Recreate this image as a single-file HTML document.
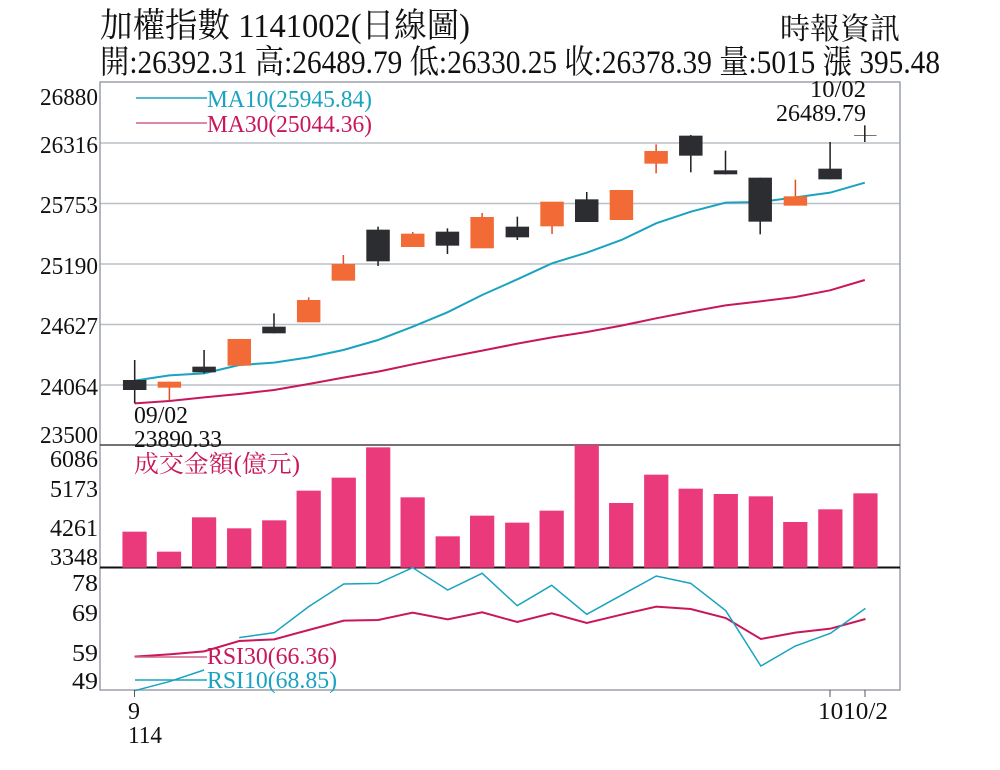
<!DOCTYPE html>
<html><head><meta charset="utf-8"><style>
html,body{margin:0;padding:0;background:#fff;}
svg{display:block;}
text{font-family:"Liberation Serif","Noto Serif CJK SC","Noto Sans CJK TC",serif;}
</style></head><body>
<svg width="1000" height="770" viewBox="0 0 1000 770" xmlns="http://www.w3.org/2000/svg">
<rect width="1000" height="770" fill="#fff"/>
<!-- header -->
<text x="100" y="37" font-size="34" fill="#111" textLength="370" lengthAdjust="spacingAndGlyphs">加權指數 1141002(日線圖)</text>
<text x="780" y="39" font-size="30" fill="#111" textLength="120" lengthAdjust="spacingAndGlyphs">時報資訊</text>
<text x="100" y="73" font-size="33" fill="#111" textLength="840" lengthAdjust="spacingAndGlyphs">開:26392.31 高:26489.79 低:26330.25 收:26378.39 量:5015 漲 395.48</text>

<!-- grid -->
<g stroke="#b9c0c6" stroke-width="1.5">
<line x1="100" y1="143" x2="900" y2="143"/>
<line x1="100" y1="203.5" x2="900" y2="203.5"/>
<line x1="100" y1="264" x2="900" y2="264"/>
<line x1="100" y1="324.5" x2="900" y2="324.5"/>
<line x1="100" y1="385" x2="900" y2="385"/>
</g>
<!-- frame -->
<rect x="100" y="82" width="800" height="608" fill="none" stroke="#9aa1a8" stroke-width="1.5"/>
<line x1="100" y1="445" x2="900" y2="445" stroke="#444" stroke-width="1.5"/>
<line x1="100" y1="567.5" x2="900" y2="567.5" stroke="#111" stroke-width="2"/>

<!-- price labels -->
<g font-size="24" fill="#111" text-anchor="end">
<text x="98" y="105" textLength="58" lengthAdjust="spacingAndGlyphs">26880</text>
<text x="98" y="153" textLength="58" lengthAdjust="spacingAndGlyphs">26316</text>
<text x="98" y="213" textLength="58" lengthAdjust="spacingAndGlyphs">25753</text>
<text x="98" y="274" textLength="58" lengthAdjust="spacingAndGlyphs">25190</text>
<text x="98" y="334" textLength="58" lengthAdjust="spacingAndGlyphs">24627</text>
<text x="98" y="395" textLength="58" lengthAdjust="spacingAndGlyphs">24064</text>
<text x="98" y="443" textLength="58" lengthAdjust="spacingAndGlyphs">23500</text>
<text x="98" y="467" textLength="48" lengthAdjust="spacingAndGlyphs">6086</text>
<text x="98" y="497" textLength="48" lengthAdjust="spacingAndGlyphs">5173</text>
<text x="98" y="536" textLength="48" lengthAdjust="spacingAndGlyphs">4261</text>
<text x="98" y="565" textLength="48" lengthAdjust="spacingAndGlyphs">3348</text>
<text x="98" y="591" textLength="26" lengthAdjust="spacingAndGlyphs">78</text>
<text x="98" y="621" textLength="26" lengthAdjust="spacingAndGlyphs">69</text>
<text x="98" y="661" textLength="26" lengthAdjust="spacingAndGlyphs">59</text>
<text x="98" y="689" textLength="26" lengthAdjust="spacingAndGlyphs">49</text>
</g>

<!-- candles in zoom coords -->
<g transform="translate(100,120) scale(0.5102,0.33333)">
<polyline fill="none" stroke="#c8175a" stroke-width="2" vector-effect="non-scaling-stroke" points="68,850 136,843 204,832 273,822 341,810 409,792 477,773 545,755 613,733 681,712 749,692 818,671 886,652 954,636 1022,617 1090,595 1158,575 1226,556 1294,544 1363,531 1431,511 1499,480"/>
<polyline fill="none" stroke="#1aa3c0" stroke-width="2" vector-effect="non-scaling-stroke" points="68,782 136,766 204,760 273,735 341,728 409,712 477,690 545,660 613,620 681,577 749,525 818,478 886,430 954,398 1022,360 1090,310 1158,275 1226,248 1294,246 1363,232 1431,218 1499,188"/>
<g stroke="#222" stroke-width="3">
<line x1="68" y1="720" x2="68" y2="850"/>
<line x1="204" y1="690" x2="204" y2="760"/>
<line x1="341" y1="580" x2="341" y2="640"/>
<line x1="545" y1="320" x2="545" y2="438"/>
<line x1="681" y1="325" x2="681" y2="402"/>
<line x1="818" y1="290" x2="818" y2="360"/>
<line x1="954" y1="216" x2="954" y2="306"/>
<line x1="1158" y1="45" x2="1158" y2="157"/>
<line x1="1226" y1="92" x2="1226" y2="163"/>
<line x1="1294" y1="173" x2="1294" y2="343"/>
<line x1="1431" y1="66" x2="1431" y2="178"/>
<line x1="1499" y1="16" x2="1499" y2="66"/>
<line x1="1478" y1="47" x2="1522" y2="47" stroke-width="2"/>
</g>
<g stroke="#e2502a" stroke-width="3">
<line x1="136" y1="785" x2="136" y2="840"/>
<line x1="409" y1="532" x2="409" y2="560"/>
<line x1="477" y1="405" x2="477" y2="450"/>
<line x1="613" y1="336" x2="613" y2="360"/>
<line x1="749" y1="279" x2="749" y2="320"/>
<line x1="886" y1="300" x2="886" y2="342"/>
<line x1="1090" y1="73" x2="1090" y2="160"/>
<line x1="1363" y1="179" x2="1363" y2="240"/>
</g>
<g fill="#2b2d30">
<rect x="45" y="780" width="46" height="30"/>
<rect x="181" y="740" width="46" height="17"/>
<rect x="318" y="620" width="46" height="20"/>
<rect x="522" y="329" width="46" height="95"/>
<rect x="658" y="335" width="46" height="42"/>
<rect x="795" y="320" width="46" height="32"/>
<rect x="931" y="238" width="46" height="68"/>
<rect x="1135" y="47" width="46" height="60"/>
<rect x="1203" y="151" width="46" height="12"/>
<rect x="1271" y="173" width="46" height="132"/>
<rect x="1408" y="146" width="46" height="32"/>
</g>
<g fill="#f26a36">
<rect x="113" y="785" width="46" height="18"/>
<rect x="250" y="657" width="46" height="80"/>
<rect x="386" y="540" width="46" height="67"/>
<rect x="454" y="432" width="46" height="50"/>
<rect x="590" y="341" width="46" height="40"/>
<rect x="726" y="291" width="46" height="94"/>
<rect x="863" y="245" width="46" height="74"/>
<rect x="999" y="210" width="46" height="90"/>
<rect x="1067" y="93" width="46" height="38"/>
<rect x="1340" y="229" width="46" height="28"/>
</g>
</g>

<!-- MA legend -->
<line x1="136" y1="98" x2="207" y2="98" stroke="#1aa3c0" stroke-width="1.5"/>
<line x1="136" y1="123" x2="207" y2="123" stroke="#d0608a" stroke-width="1.5"/>
<text x="207" y="107" font-size="24" fill="#1aa3c0" textLength="165" lengthAdjust="spacingAndGlyphs">MA10(25945.84)</text>
<text x="207" y="132" font-size="24" fill="#c8175a" textLength="165" lengthAdjust="spacingAndGlyphs">MA30(25044.36)</text>
<text x="810" y="97" font-size="24" fill="#111" textLength="56" lengthAdjust="spacingAndGlyphs">10/02</text>
<text x="776" y="121" font-size="24" fill="#111" textLength="90" lengthAdjust="spacingAndGlyphs">26489.79</text>
<text x="134" y="423" font-size="24" fill="#111" textLength="54" lengthAdjust="spacingAndGlyphs">09/02</text>
<text x="134" y="447" font-size="24" fill="#111" textLength="88" lengthAdjust="spacingAndGlyphs">23890.33</text>

<!-- volume -->
<g transform="translate(0,440) scale(0.63776,0.33333)" fill="#ea3a7b">
<rect x="192" y="275" width="38" height="108"/>
<rect x="246" y="335" width="38" height="48"/>
<rect x="301" y="232" width="38" height="151"/>
<rect x="356" y="265" width="38" height="118"/>
<rect x="411" y="241" width="38" height="142"/>
<rect x="465" y="152" width="38" height="231"/>
<rect x="520" y="113" width="38" height="270"/>
<rect x="574" y="22" width="38" height="361"/>
<rect x="628" y="172" width="38" height="211"/>
<rect x="683" y="289" width="38" height="94"/>
<rect x="737" y="227" width="38" height="156"/>
<rect x="792" y="248" width="38" height="135"/>
<rect x="846" y="212" width="38" height="171"/>
<rect x="901" y="15" width="38" height="368"/>
<rect x="955" y="189" width="38" height="194"/>
<rect x="1010" y="104" width="38" height="279"/>
<rect x="1064" y="146" width="38" height="237"/>
<rect x="1119" y="162" width="38" height="221"/>
<rect x="1174" y="169" width="38" height="214"/>
<rect x="1228" y="246" width="38" height="137"/>
<rect x="1283" y="208" width="38" height="175"/>
<rect x="1338" y="160" width="38" height="223"/>
</g>
<text x="134" y="472" font-size="24" fill="#c8175a" textLength="166" lengthAdjust="spacingAndGlyphs">成交金額(億元)</text>

<!-- RSI -->
<g transform="translate(0,440) scale(0.63776,0.33333)" fill="none">
<polyline stroke="#c8175a" stroke-width="2" vector-effect="non-scaling-stroke" points="211,650 265,643 320,634 375,603 430,598 484,570 539,542 593,540 647,518 702,538 756,517 811,546 865,520 920,549 974,524 1029,500 1083,507 1138,534 1193,597 1247,578 1302,566 1357,537"/>
<polyline stroke="#1aa3c0" stroke-width="1.5" vector-effect="non-scaling-stroke" points="211,752 265,725 320,690"/>
<polyline stroke="#1aa3c0" stroke-width="1.5" vector-effect="non-scaling-stroke" points="375,593 430,578 484,500 539,432 593,430 647,383 702,450 756,400 811,497 865,436 920,523 974,466 1029,408 1083,430 1138,512 1193,678 1247,618 1302,580 1357,505"/>
</g>
<line x1="135" y1="657" x2="207" y2="657" stroke="#d0608a" stroke-width="1.5"/>
<line x1="135" y1="680" x2="207" y2="680" stroke="#1aa3c0" stroke-width="1.5"/>
<text x="207" y="664" font-size="24" fill="#c8175a" textLength="130" lengthAdjust="spacingAndGlyphs">RSI30(66.36)</text>
<text x="207" y="688" font-size="24" fill="#1aa3c0" textLength="130" lengthAdjust="spacingAndGlyphs">RSI10(68.85)</text>

<!-- x ticks -->
<g stroke="#555" stroke-width="1">
<line x1="134.5" y1="690" x2="134.5" y2="697"/>
<line x1="830" y1="690" x2="830" y2="697"/>
<line x1="865" y1="690" x2="865" y2="697"/>
</g>
<g font-size="24" fill="#111">
<text x="128" y="719" textLength="12" lengthAdjust="spacingAndGlyphs">9</text>
<text x="128" y="743" textLength="34" lengthAdjust="spacingAndGlyphs">114</text>
<text x="818" y="719" textLength="70" lengthAdjust="spacingAndGlyphs">1010/2</text>
</g>
</svg>
</body></html>
